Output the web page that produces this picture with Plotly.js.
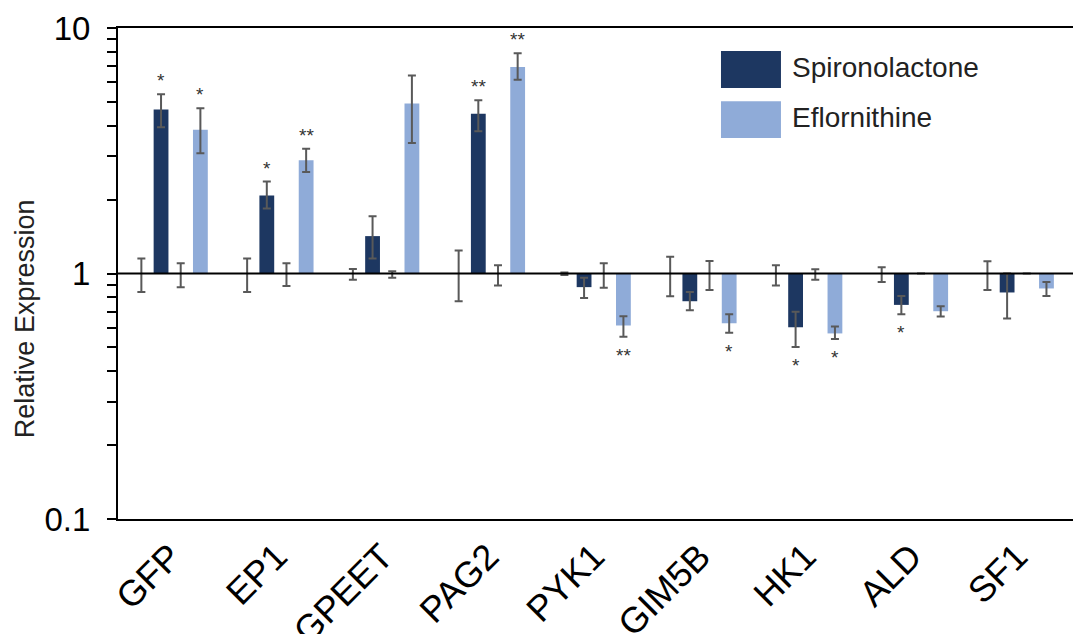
<!DOCTYPE html>
<html>
<head>
<meta charset="utf-8">
<script src="https://cdn.plot.ly/plotly-3.0.1.min.js"></script>
<style>html,body{margin:0;padding:0;background:#fff;}#chart{width:1073px;height:634px;}</style>
</head>
<body>
<div id="chart"></div>
<script>
// ---- data ----
const genes = ['GFP', 'EP1', 'GPEET', 'PAG2', 'PYK1', 'GIM5B', 'HK1', 'ALD', 'SF1'];
const seriesNames = ['Spironolactone', 'Eflornithine'];
const yTitle = 'Relative Expression';

const spiro          = [4.66, 2.08, 1.42, 4.47, 0.88, 0.771, 0.604, 0.745, 0.837];
const spiroErrPlus   = [0.71, 0.29, 0.29, 0.61, 0.08, 0.070, 0.094, 0.065, 0.163];
const spiroErrMinus  = [0.72, 0.24, 0.27, 0.67, 0.085, 0.062, 0.102, 0.062, 0.181];

const eflor          = [3.85, 2.89, 4.93, 6.94, 0.614, 0.627, 0.570, 0.702, 0.869];
const eflorErrPlus   = [0.86, 0.33, 1.48, 0.95, 0.056, 0.056, 0.038, 0.034, 0.055];
const eflorErrMinus  = [0.76, 0.30, 1.53, 0.79, 0.062, 0.054, 0.029, 0.034, 0.059];

// controls (relative expression = 1)
const ctrlSpiro          = [1, 1, 1, 1, 1, 1, 1, 1, 1];
const ctrlSpiroErrPlus   = [0.15, 0.15, 0.044, 0.24, 0.010, 0.169, 0.080, 0.061, 0.122];
const ctrlSpiroErrMinus  = [0.16, 0.16, 0.058, 0.23, 0.015, 0.192, 0.106, 0.076, 0.143];
const ctrlEflor          = [1, 1, 1, 1, 1, 1, 1, 1, 1];
const ctrlEflorErrPlus   = [0.10, 0.10, 0.022, 0.08, 0.10, 0.125, 0.040, 0, 0];
const ctrlEflorErrMinus  = [0.12, 0.11, 0.040, 0.106, 0.126, 0.143, 0.058, 0, 0];

const spiroSig = ['*', '*', '', '**', '', '', '*', '*', ''];
const eflorSig = ['*', '**', '', '**', '**', '*', '*', '', ''];

const yTickVals = [0.1, 1, 10];
const yTickText = ['0.1', '1', '10'];
const yMinorVals = [0.2,0.3,0.4,0.5,0.6,0.7,0.8,0.9,2,3,4,5,6,7,8,9];

// ---- styles ----
const DARK = '#1d3761';
const LIGHT = '#8fabd8';
const ERR = '#595959';
const FONT = '"Liberation Sans", Arial, Helvetica, sans-serif';

const idx = genes.map((g, i) => i);
const slot = 0.186;
const barW = 0.14;
const slots = [-1.5 * slot, -0.5 * slot, 0.5 * slot, 1.5 * slot];

function barTrace(vals, plus, minus, slotOffset, color, name) {
  return {
    type: 'bar',
    name: name,
    x: idx,
    y: vals.map(v => v - 1),
    base: 1,
    width: barW,
    offset: slotOffset - barW / 2,
    marker: {color: color, line: {width: 0}},
    error_y: {type: 'data', symmetric: false, array: plus, arrayminus: minus,
              color: ERR, thickness: 2, width: 4},
    showlegend: false,
    hoverinfo: 'skip'
  };
}

const traces = [
  barTrace(ctrlSpiro, ctrlSpiroErrPlus, ctrlSpiroErrMinus, slots[0], 'rgba(0,0,0,0)', 'ctrl1'),
  barTrace(spiro, spiroErrPlus, spiroErrMinus, slots[1], DARK, seriesNames[0]),
  barTrace(ctrlEflor, ctrlEflorErrPlus, ctrlEflorErrMinus, slots[2], 'rgba(0,0,0,0)', 'ctrl2'),
  barTrace(eflor, eflorErrPlus, eflorErrMinus, slots[3], LIGHT, seriesNames[1])
];

// significance marks
const annotations = [];
function addSig(vals, plus, minus, sig, slotOffset) {
  sig.forEach((s, i) => {
    if (!s) return;
    const up = vals[i] >= 1;
    const yv = up ? vals[i] + plus[i] : vals[i] - minus[i];
    annotations.push({
      x: i + slotOffset, y: Math.log10(yv), xref: 'x', yref: 'y',
      text: s, showarrow: false,
      xanchor: 'center', yanchor: up ? 'bottom' : 'top',
      yshift: up ? 1 : -6,
      font: {family: FONT, size: 19, color: '#333333'}
    });
  });
}
addSig(spiro, spiroErrPlus, spiroErrMinus, spiroSig, slots[1]);
addSig(eflor, eflorErrPlus, eflorErrMinus, eflorSig, slots[3]);

// y-axis title
annotations.push({xref: 'paper', yref: 'paper', x: -0.0974, y: 0.409, textangle: -90,
                  text: yTitle, showarrow: false, xanchor: 'center', yanchor: 'middle',
                  font: {family: FONT, size: 27, color: '#222'}});

// custom legend (swatches + labels)
const legendX0 = 0.6314, legendX1 = 0.6942, legendTextX = 0.7037;
const legendRows = [{y0: 0.878, y1: 0.953, color: DARK}, {y0: 0.776, y1: 0.851, color: LIGHT}];
const shapes = [
  {type: 'line', xref: 'paper', yref: 'y', x0: 0, x1: 1, y0: 1, y1: 1,
   line: {color: '#000', width: 2}}
];
legendRows.forEach((r, k) => {
  shapes.push({type: 'rect', xref: 'paper', yref: 'paper', x0: legendX0, x1: legendX1,
               y0: r.y0, y1: r.y1, fillcolor: r.color, line: {width: 0}});
  annotations.push({xref: 'paper', yref: 'paper', x: legendTextX, y: (r.y0 + r.y1) / 2 + 0.004,
                    text: seriesNames[k], showarrow: false, xanchor: 'left', yanchor: 'middle',
                    font: {family: FONT, size: 28, color: '#222'}});
});

const layout = {
  width: 1073, height: 634,
  margin: {l: 118, r: 0, t: 28, b: 115},
  paper_bgcolor: '#fff', plot_bgcolor: '#fff',
  barmode: 'overlay',
  showlegend: false,
  font: {family: FONT, color: '#000'},
  xaxis: {
    range: [-0.5, 8.53],
    tickmode: 'array', tickvals: idx, ticktext: genes,
    tickangle: -45, ticks: '', showgrid: false, zeroline: false,
    showline: true, linecolor: '#000', linewidth: 2, mirror: true,
    tickfont: {family: FONT, size: 36, color: '#000'},
    ticklabelstandoff: 0,
    fixedrange: true
  },
  yaxis: {
    type: 'log', range: [-1, 1],
    tickmode: 'array', tickvals: yTickVals, ticktext: yTickText,
    ticks: 'outside', ticklen: 9, tickwidth: 2, tickcolor: '#000',
    minor: {tickmode: 'array', tickvals: yMinorVals, ticks: 'outside', ticklen: 9, tickwidth: 2, tickcolor: '#000', showgrid: false},
    showgrid: false, zeroline: false,
    showline: true, linecolor: '#000', linewidth: 2,
    tickfont: {family: FONT, size: 33, color: '#000'},
    ticklabelstandoff: 10,
    fixedrange: true
  },
  shapes: shapes,
  annotations: annotations
};

Plotly.newPlot('chart', traces, layout, {displayModeBar: false, staticPlot: true});
</script>
</body>
</html>
